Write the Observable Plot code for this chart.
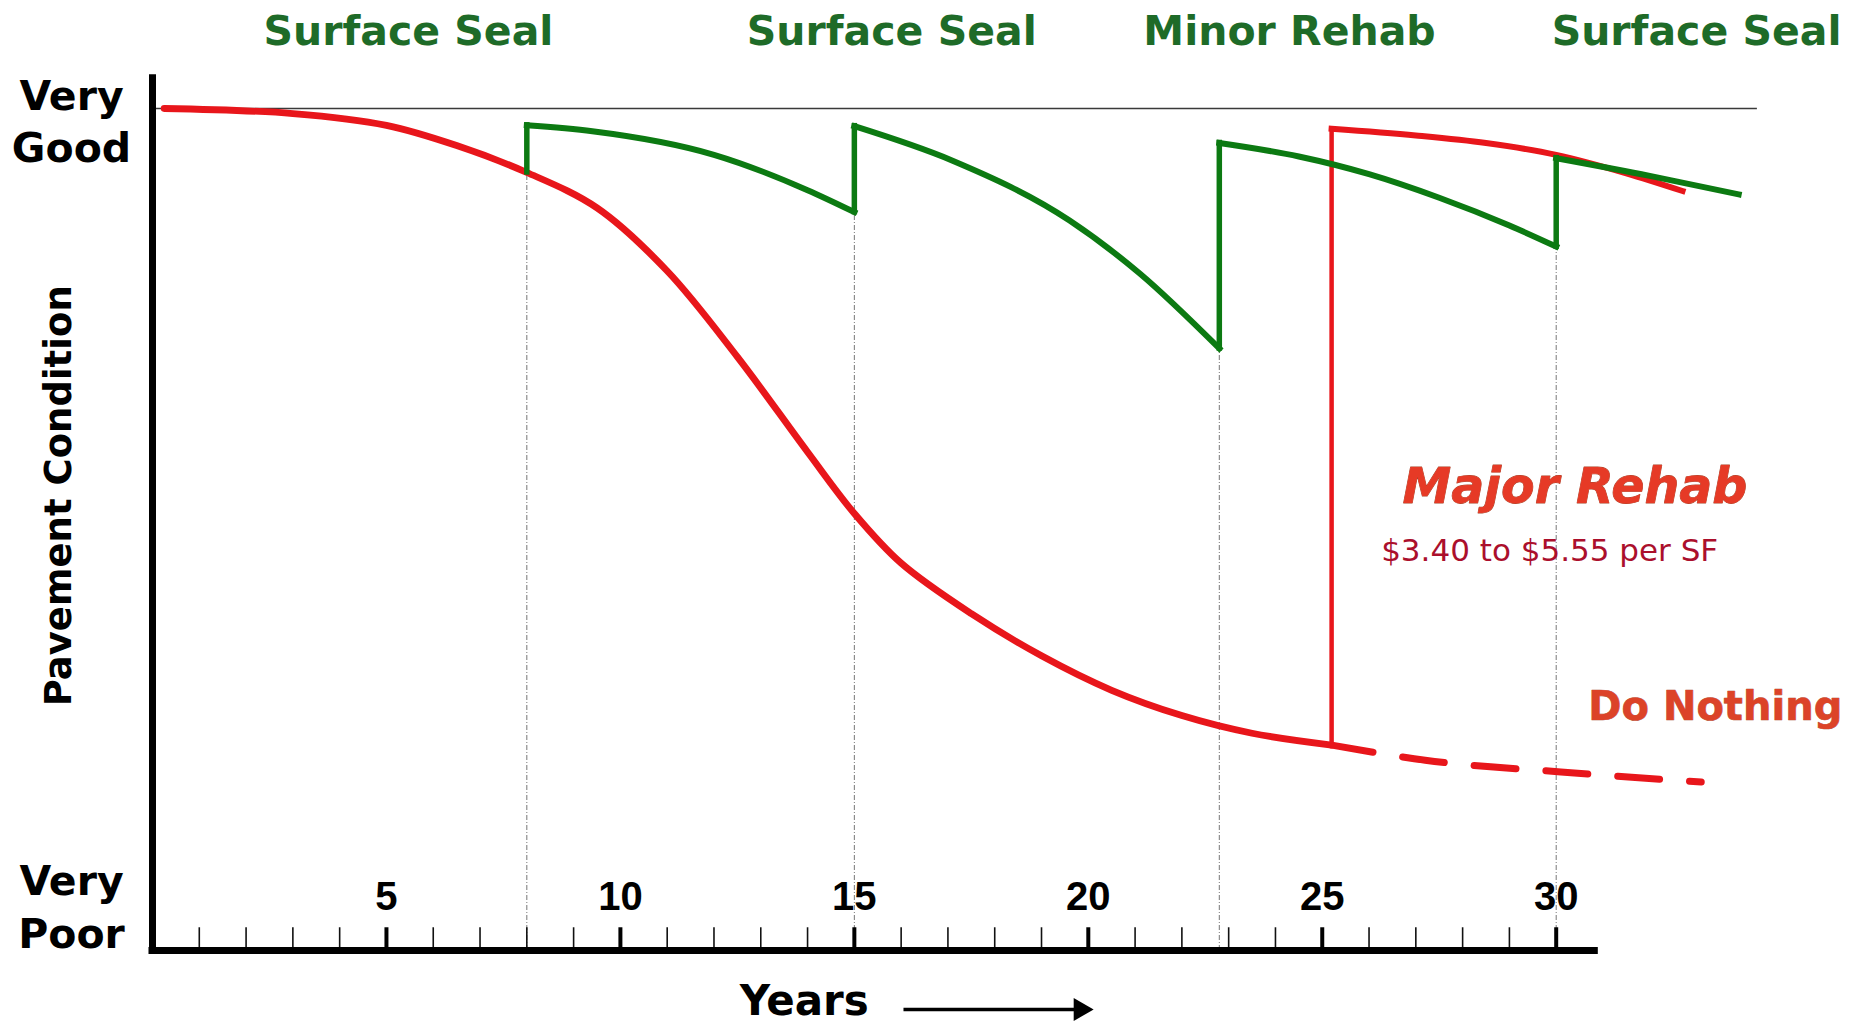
<!DOCTYPE html>
<html>
<head>
<meta charset="utf-8">
<script src="https://cdn.jsdelivr.net/npm/d3@7"></script>
<script src="https://cdn.jsdelivr.net/npm/@observablehq/plot@0.6"></script>
<style>
  html, body { margin: 0; padding: 0; background: #fff; }
  #chart svg { display: block; }
</style>
</head>
<body>
<div id="chart"></div>
<script>
// ---- Data (years, pavement condition 0 = Very Poor, 100 = Very Good) ----
const doNothingYears = [0.25, 3, 5, 6.5, 8, 9.5, 11, 12.5, 14, 15, 16, 17.5, 19, 20.5, 22, 23.5, 25.2];
const doNothingCond  = [100, 99.4, 98, 95.6, 92.4, 88.2, 80.7, 70.5, 59.2, 51.9, 46.0, 40.0, 35.0, 30.9, 27.9, 25.8, 24.4];

const doNothingLaterYears = [25.2, 27.2, 30.1, 33.1];
const doNothingLaterCond  = [24.4, 22.6, 21.2, 20.0];

const majorRehabYears = [25.2, 27, 28.5, 30, 31.5, 32.7];
const majorRehabCond  = [97.6, 96.8, 95.9, 94.5, 92.3, 90.2];

const maintYears = [
  [8, 9.4, 12, 14, 15],
  [15, 17.1, 19.6, 21.1, 22.8],
  [22.8, 24.5, 26, 27.5, 29, 30],
  [30, 32, 33.9]
];
const maintCond = [
  [98, 97.3, 94.5, 90.3, 87.7],
  [97.9, 93.8, 86.7, 80.4, 71.5],
  [95.9, 94.3, 92.2, 89.4, 86.1, 83.6],
  [94.1, 92, 89.8]
];
const treatmentLabels = ["Surface Seal", "Surface Seal", "Minor Rehab", "Surface Seal"];
const treatmentLabelAt = [5.47, 15.8, 24.3, 33.0];

const majorTicks = [5, 10, 15, 20, 25, 30];
const minorTicks = d3.range(1, 30).filter(d => d % 5 !== 0);
const xAxisEnd = 30.9;
const xDomainEnd = 34.3;

// ---- Derived tables ----
const doNothing = doNothingYears.map((x, i) => ({x, y: doNothingCond[i]}));
const doNothingLater = doNothingLaterYears.map((x, i) => ({x, y: doNothingLaterCond[i]}));
const majorRehab = majorRehabYears.map((x, i) => ({x, y: majorRehabCond[i]}));
const maint = maintYears.flatMap((ys, s) => ys.map((x, i) => ({x, y: maintCond[s][i], s})));
const jumps = maintYears.map((ys, s) => ({
  x: ys[0],
  from: s === 0 ? doNothingCond[doNothingYears.indexOf(ys[0])] : maintCond[s - 1][maintCond[s - 1].length - 1],
  to: maintCond[s][0]
}));
const rehabJump = {x: majorRehabYears[0], from: doNothingLaterCond[0], to: majorRehabCond[0]};

const GREEN = "#0c7a12";
const RED = "#e8161b";
const TXTGREEN = "#1e6b28";

const chart = Plot.plot({
  width: 1862,
  height: 1025,
  marginLeft: 152,
  marginRight: 1862 - 152 - xDomainEnd * 46.79,
  marginTop: 108,
  marginBottom: 75,
  x: {domain: [0, xDomainEnd], axis: null},
  y: {domain: [0, 100], axis: null},
  style: {background: "white", overflow: "visible"},
  marks: [
    // Very Good reference line
    Plot.ruleY([100], {x1: 0, x2: xDomainEnd, stroke: "#3a3a3a", strokeWidth: 1.6}),
    // dotted drop lines at treatments
    Plot.ruleX(jumps, {x: "x", y1: 0, y2: "from", stroke: "#777", strokeWidth: 1, strokeDasharray: "5,2,1,2"}),
    // minor & major ticks
    Plot.ruleX(minorTicks, {x: d => d, y1: 0, y2: 2.7, stroke: "#111", strokeWidth: 1.6}),
    Plot.ruleX(majorTicks, {x: d => d, y1: 0, y2: 2.7, stroke: "#000", strokeWidth: 4}),
    // axes
    Plot.ruleY([0], {x1: -0.075, x2: xAxisEnd, stroke: "#000", strokeWidth: 7}),
    Plot.ruleX([0], {y1: -0.4, y2: 104, stroke: "#000", strokeWidth: 7}),
    // tick labels
    Plot.text(majorTicks, {x: d => d, text: d => String(d), frameAnchor: "bottom", lineAnchor: "middle", dy: -53,
      fontFamily: "Liberation Sans", fontWeight: "bold", fontSize: 40, fill: "#000"}),
    // Do nothing (red)
    Plot.line(doNothing, {x: "x", y: "y", stroke: RED, strokeWidth: 6.8, curve: "catmull-rom", strokeLinecap: "round"}),
    Plot.line(doNothingLater, {x: "x", y: "y", stroke: RED, strokeWidth: 7, curve: "monotone-x", strokeDasharray: "42,30"}),
    // Major rehab
    Plot.ruleX([rehabJump], {x: "x", y1: "from", y2: "to", stroke: RED, strokeWidth: 4.5, strokeLinecap: "square"}),
    Plot.line(majorRehab, {x: "x", y: "y", stroke: RED, strokeWidth: 6, curve: "monotone-x", strokeLinecap: "square"}),
    // Maintenance (green)
    Plot.ruleX(jumps, {x: "x", y1: "from", y2: "to", stroke: GREEN, strokeWidth: 5.5, strokeLinecap: "square"}),
    Plot.line(maint, {x: "x", y: "y", z: "s", stroke: GREEN, strokeWidth: 6, curve: "monotone-x", strokeLinecap: "square"}),
    // treatment labels on top
    Plot.text(treatmentLabels, {x: (d, i) => treatmentLabelAt[i], frameAnchor: "top", lineAnchor: "middle", dy: -77,
      fontFamily: "DejaVu Sans", fontWeight: "bold", fontSize: 41, fill: TXTGREEN, letterSpacing: "1px"}),
    // y labels
    Plot.text(["Very\nGood"], {x: 0, y: 100, dx: -81, dy: 11, lineAnchor: "middle", lineHeight: 1.27,
      fontFamily: "DejaVu Sans", fontWeight: "bold", fontSize: 41, fill: "#000"}),
    Plot.text(["Very\nPoor"], {x: 0, y: 0, dx: -81, dy: -3, lineAnchor: "bottom", lineHeight: 1.27,
      fontFamily: "DejaVu Sans", fontWeight: "bold", fontSize: 41, fill: "#000"}),
    Plot.text(["Pavement Condition"], {frameAnchor: "left", textAnchor: "middle", lineAnchor: "middle", y: 54, dx: -93, rotate: -90,
      fontFamily: "DejaVu Sans", fontWeight: "bold", fontSize: 37, fill: "#000"}),
    // x title and arrow
    Plot.text(["Years"], {x: 13.93, frameAnchor: "bottom", lineAnchor: "middle", dy: 51,
      fontFamily: "DejaVu Sans", fontWeight: "bold", fontSize: 42, fill: "#000"}),
    Plot.link([{x1: 16.05, x2: 19.7, y: -7.0}], {x1: "x1", x2: "x2", y1: "y", y2: "y", stroke: "#000", strokeWidth: 3.5}),
    Plot.dot([{x: 19.83, y: -7.0}], {x: "x", y: "y", symbol: "triangle2", rotate: 90, r: 11, fill: "#000", stroke: "none"}),
    // annotations
    Plot.text(["Major Rehab"], {x: 30.4, y: 55.0, fontFamily: "DejaVu Sans", fontWeight: "bold", fontStyle: "italic",
      fontSize: 49, fill: "#e63a26", stroke: "#a8442a", strokeWidth: 0.8}),
    Plot.text(["$3.40 to $5.55 per SF"], {x: 29.86, y: 47.4, fontFamily: "DejaVu Sans", fontSize: 31, fill: "#ab0f2c"}),
    Plot.text(["Do Nothing"], {x: 33.4, y: 28.9, fontFamily: "DejaVu Sans", fontWeight: "bold",
      fontSize: 40, fill: "#dc4328", stroke: "#a8442a", strokeWidth: 0.6})
  ]
});
document.getElementById("chart").appendChild(chart);
</script>
</body>
</html>
